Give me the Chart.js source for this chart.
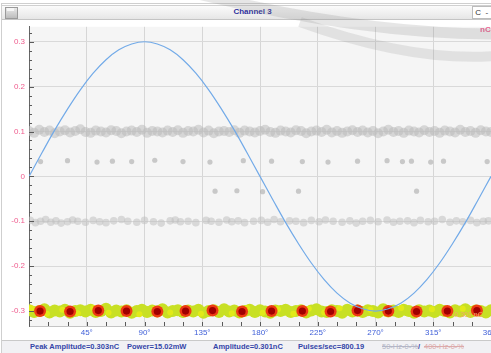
<!DOCTYPE html>
<html><head><meta charset="utf-8">
<script src="https://cdn.jsdelivr.net/npm/chart.js@4.4.1/dist/chart.umd.min.js"></script>
<style>
html,body{margin:0;padding:0;background:#fff;width:491px;height:353px;overflow:hidden;font-family:"Liberation Sans",Arial,sans-serif;}
#frame{position:absolute;left:1px;top:3px;width:492px;height:348px;border:1px solid #cfcfcf;}
#titlebar{position:absolute;left:2px;top:5px;width:492px;height:13px;background:linear-gradient(#fbfbfb,#e6e6e6);border-top:1px solid #d0d0d0;border-bottom:1px solid #c4c4c4;}
#icon{position:absolute;left:5px;top:7px;width:11px;height:10px;border:1px solid #9a9a9a;background:linear-gradient(#e8e8e8,#bdbdbd);}
#icon2{position:absolute;left:7px;top:8px;width:7px;height:3px;background:#f6f6f6;}
#title{position:absolute;left:0;width:491px;top:7px;text-align:center;font-size:8px;font-weight:bold;color:#2e2f9c;line-height:10px;padding-left:14px;box-sizing:border-box;}
#cbox{position:absolute;left:472px;top:6px;width:22px;height:11px;background:#fff;border:1px solid #bcbcbc;font-size:8px;color:#333;line-height:11px;}
#wrap{position:absolute;left:0;top:18px;width:520px;height:322px;}
#status{position:absolute;left:2px;top:340px;width:492px;height:13px;background:#f1f1f4;border-top:1px solid #c9c9c9;}
.st{position:absolute;top:342px;font-size:7.5px;font-weight:bold;color:#3445a8;line-height:10px;white-space:nowrap;}
.off1{color:#b4b6c6;text-decoration:line-through;font-weight:normal;}
.off2{color:#dcaaaa;text-decoration:line-through;font-weight:normal;}
#nc{position:absolute;left:480px;top:25px;font-size:8px;color:#ef5b8d;font-weight:bold;}
#lvl{position:absolute;left:452px;top:311px;font-size:7px;color:#f2a66a;}
svg{position:absolute;left:0;top:0;pointer-events:none;}
</style>
</head><body>
<div id="frame"></div>
<div id="titlebar"></div>
<div id="icon"></div><div id="icon2"></div>
<div id="title">Channel 3</div>
<div id="cbox">&nbsp;C&nbsp;&nbsp;-</div>
<div id="wrap"><canvas id="c" width="520" height="322" style="width:520px;height:322px"></canvas></div>
<div id="nc">nC</div>
<div id="lvl">-0.301 nC</div>
<div id="status"></div>
<span class="st" style="left:30px">Peak Amplitude=0.303nC</span>
<span class="st" style="left:127px">Power=15.02mW</span>
<span class="st" style="left:213px">Amplitude=0.301nC</span>
<span class="st" style="left:298px">Pulses/sec=800.19</span>
<span class="st off1" style="left:382px">50-Hz-0-%</span>
<span class="st" style="left:418px">/</span>
<span class="st off2" style="left:424px">400-Hz-0-%</span>
<svg width="491" height="353">
  <path d="M190,-8 Q360,34 495,34" stroke="rgba(140,140,140,0.22)" stroke-width="11" fill="none"/>
  <path d="M300,22 Q410,62 495,56" stroke="rgba(140,140,140,0.18)" stroke-width="10" fill="none"/>
</svg>
<script>
// ---- data ----
const xTickLabels = ['', '45°', '90°', '135°', '180°', '225°', '270°', '315°', '360°'];
const yTickValues = [-0.3, -0.2, -0.1, 0, 0.1, 0.2, 0.3];
const yTickLabels = ['-0.3', '-0.2', '-0.1', '0', '0.1', '0.2', '0.3'];

const sinePhase = [0,10,20,30,40,50,60,70,80,90,100,110,120,130,140,150,160,170,180,190,200,210,220,230,240,250,260,270,280,290,300,310,320,330,340,350,360];
const sineAmp = [0,0.052,0.103,0.150,0.193,0.230,0.260,0.282,0.295,0.300,0.295,0.282,0.260,0.230,0.193,0.150,0.103,0.052,0,-0.052,-0.103,-0.150,-0.193,-0.230,-0.260,-0.282,-0.295,-0.300,-0.295,-0.282,-0.260,-0.230,-0.193,-0.150,-0.103,-0.052,0];

const pulsePhase = [8.6,32,54,76,100,122,143,166,189,213,235,256,280,302,326,349];
const pulseAmp = [-0.300,-0.301,-0.299,-0.300,-0.301,-0.300,-0.299,-0.301,-0.300,-0.300,-0.301,-0.299,-0.300,-0.301,-0.300,-0.299];

const bandPhase = [0,4,8,12,16,20,24,28,32,36,40,44,48,52,56,60,64,68,72,76,80,84,88,92,96,100,104,108,112,116,120,124,128,132,136,140,144,148,152,156,160,164,168,172,176,180,184,188,192,196,200,204,208,212,216,220,224,228,232,236,240,244,248,252,256,260,264,268,272,276,280,284,288,292,296,300,304,308,312,316,320,324,328,332,336,340,344,348,352,356,360];
const greenAmp = [-0.298,-0.302,-0.300,-0.296,-0.303,-0.299,-0.301,-0.297,-0.304,-0.300,
-0.298,-0.301,-0.297,-0.302,-0.300,-0.295,-0.303,-0.299,-0.301,-0.298,
-0.304,-0.300,-0.297,-0.302,-0.299,-0.301,-0.296,-0.303,-0.300,-0.298,
-0.302,-0.299,-0.301,-0.297,-0.304,-0.300,-0.298,-0.302,-0.296,-0.301,
-0.299,-0.303,-0.300,-0.297,-0.302,-0.298,-0.301,-0.304,-0.299,-0.300,
-0.297,-0.302,-0.300,-0.298,-0.303,-0.299,-0.296,-0.301,-0.302,-0.298,
-0.300,-0.304,-0.297,-0.301,-0.299,-0.302,-0.298,-0.300,-0.303,-0.296,
-0.301,-0.299,-0.302,-0.297,-0.300,-0.304,-0.298,-0.301,-0.299,-0.302,
-0.297,-0.300,-0.303,-0.298,-0.301,-0.296,-0.302,-0.299,-0.300,-0.303,-0.298];
const grey01Amp = [0.101,0.097,0.104,0.099,0.102,0.096,0.100,0.103,0.098,0.101,
0.105,0.099,0.097,0.102,0.100,0.098,0.103,0.101,0.096,0.100,
0.102,0.099,0.104,0.097,0.101,0.100,0.098,0.102,0.099,0.103,
0.097,0.101,0.100,0.104,0.098,0.102,0.096,0.100,0.101,0.099,
0.103,0.097,0.102,0.100,0.098,0.101,0.104,0.099,0.097,0.102,
0.100,0.098,0.103,0.101,0.096,0.100,0.102,0.099,0.104,0.098,
0.101,0.097,0.100,0.103,0.099,0.102,0.098,0.101,0.096,0.100,
0.104,0.099,0.101,0.097,0.102,0.100,0.098,0.103,0.099,0.101,
0.097,0.102,0.100,0.098,0.104,0.099,0.101,0.097,0.103,0.100,0.099];

const yellowPhase = [2,14,26,38,50,62,74,86,98,110,122,134,146,158,170,182,194,206,218,230,242,254,266,278,290,302,314,326,338,350];
const yellowAmp = [-0.294,-0.306,-0.297,-0.305,-0.293,-0.304,-0.296,-0.307,-0.295,-0.303,-0.294,-0.306,-0.297,-0.305,-0.293,-0.304,-0.296,-0.306,-0.295,-0.303,-0.294,-0.305,-0.297,-0.306,-0.293,-0.304,-0.296,-0.305,-0.295,-0.303];

const greyM01Phase = [1,5,9,13,17,21,25,30,34,38,44,50,55,60,66,72,77,84,90,97,103,110,114,118,124,130,138,142,148,154,158,163,168,175,181,186,191,196,203,208,214,220,226,231,237,244,250,255,260,266,272,279,284,289,295,300,305,311,316,322,328,333,338,344,349,354,358];
const greyM01Amp = [-0.098,-0.103,-0.100,-0.096,-0.102,-0.099,-0.104,-0.101,-0.097,-0.100,
-0.102,-0.098,-0.101,-0.103,-0.099,-0.096,-0.100,-0.102,-0.098,-0.101,
-0.104,-0.099,-0.097,-0.101,-0.100,-0.103,-0.098,-0.100,-0.102,-0.097,
-0.101,-0.099,-0.103,-0.100,-0.098,-0.102,-0.096,-0.101,-0.099,-0.100,
-0.103,-0.098,-0.101,-0.097,-0.100,-0.102,-0.099,-0.104,-0.100,-0.098,
-0.101,-0.097,-0.102,-0.100,-0.099,-0.103,-0.098,-0.101,-0.100,-0.096,
-0.102,-0.099,-0.101,-0.098,-0.103,-0.100,-0.099];

const upPhase = [9,30,53,65,80,98,120,141,167,189,213,233,256,279,291,298,313,323,357];
const upAmp = [0.033,0.035,0.032,0.034,0.033,0.036,0.033,0.032,0.035,0.034,0.033,0.032,0.034,0.035,0.033,0.034,0.032,0.034,0.033];
const downPhase = [145,162,182,210,302];
const downAmp = [-0.033,-0.032,-0.034,-0.033,-0.033];

// ---- build ----
const pts = (xs, ys) => xs.map((x, i) => ({x: x, y: ys[i]}));

const decor = {
  id: 'decor',
  beforeDraw(chart) {
    const {ctx, chartArea: a} = chart;
    ctx.save();
    ctx.fillStyle = '#f5f5f5';
    ctx.fillRect(a.left, a.top, a.right - a.left, a.bottom - a.top);
    ctx.restore();
  },
  afterDraw(chart) {
    const {ctx, chartArea: a, scales} = chart;
    ctx.save();
    ctx.strokeStyle = '#5a5a5a';
    ctx.lineWidth = 1;
    ctx.beginPath();
    for (let k = -16; k <= 16; k++) {
      const v = k * 0.02;
      const y = Math.round(scales.y.getPixelForValue(v)) + 0.5;
      const len = (k % 5 === 0) ? 5 : 3;
      ctx.moveTo(a.left, y); ctx.lineTo(a.left + len, y);
    }
    for (let d = 0; d <= 360; d += 15) {
      const x = Math.round(scales.x.getPixelForValue(d)) + 0.5;
      ctx.moveTo(x, a.bottom); ctx.lineTo(x, a.bottom - 4);
    }
    ctx.stroke();
    ctx.restore();
  }
};

new Chart(document.getElementById('c'), {
  type: 'scatter',
  data: {
    datasets: [
      {label: 'Sine', data: pts(sinePhase, sineAmp), showLine: true, borderColor: '#72aae8', borderWidth: 1.2, pointRadius: 0, tension: 0.4, fill: false},
      {label: 'PulseCore', data: pts(pulsePhase, pulseAmp), pointRadius: 3.6, backgroundColor: '#a00000', borderWidth: 0},
      {label: 'PulseHalo', data: pts(pulsePhase, pulseAmp), pointRadius: 6, backgroundColor: '#ee3a12', borderWidth: 0},
      {label: 'Yellow', data: pts(yellowPhase, yellowAmp), pointRadius: 3, backgroundColor: '#e2ea18', borderWidth: 0},
      {label: 'Green', data: pts(bandPhase, greenAmp), pointRadius: 6, backgroundColor: '#c8e024', borderWidth: 0},
      {label: 'Up', data: pts(upPhase, upAmp), pointRadius: 2.6, backgroundColor: 'rgba(170,170,170,0.6)', borderWidth: 0},
      {label: 'Down', data: pts(downPhase, downAmp), pointRadius: 2.6, backgroundColor: 'rgba(170,170,170,0.6)', borderWidth: 0},
      {label: 'Band01', data: pts(bandPhase, grey01Amp), pointRadius: 5, backgroundColor: 'rgba(188,188,188,0.55)', borderWidth: 0},
      {label: 'BandM01', data: pts(greyM01Phase, greyM01Amp), pointRadius: 3.8, backgroundColor: 'rgba(192,192,192,0.55)', borderWidth: 0}
    ]
  },
  options: {
    responsive: false,
    animation: false,
    devicePixelRatio: 1,
    layout: {padding: {left: 0, top: 4, right: 29, bottom: 0}},
    plugins: {legend: {display: false}, tooltip: {enabled: false}},
    scales: {
      x: {
        type: 'linear', min: 0, max: 360,
        afterFit(s) { s.height = 14; },
        ticks: {stepSize: 45, color: '#3f5fd8', font: {size: 8, family: 'Liberation Sans'}, padding: 2, maxRotation: 0, autoSkip: false,
          callback: (v, i) => xTickLabels[i]},
        grid: {color: '#d6d6d6', drawTicks: false},
        border: {color: '#c4c4c4'}
      },
      y: {
        min: -1/3, max: 1/3,
        afterFit(s) { s.width = 29; },
        afterBuildTicks(s) { s.ticks = yTickValues.map(v => ({value: v})); },
        ticks: {color: '#ef5b8d', font: {size: 8, family: 'Liberation Sans'}, padding: 4,
          callback: (v, i) => yTickLabels[i]},
        grid: {color: '#d9d9d9', drawTicks: false},
        border: {color: '#666666'}
      }
    }
  },
  plugins: [decor]
});
</script>
</body></html>
